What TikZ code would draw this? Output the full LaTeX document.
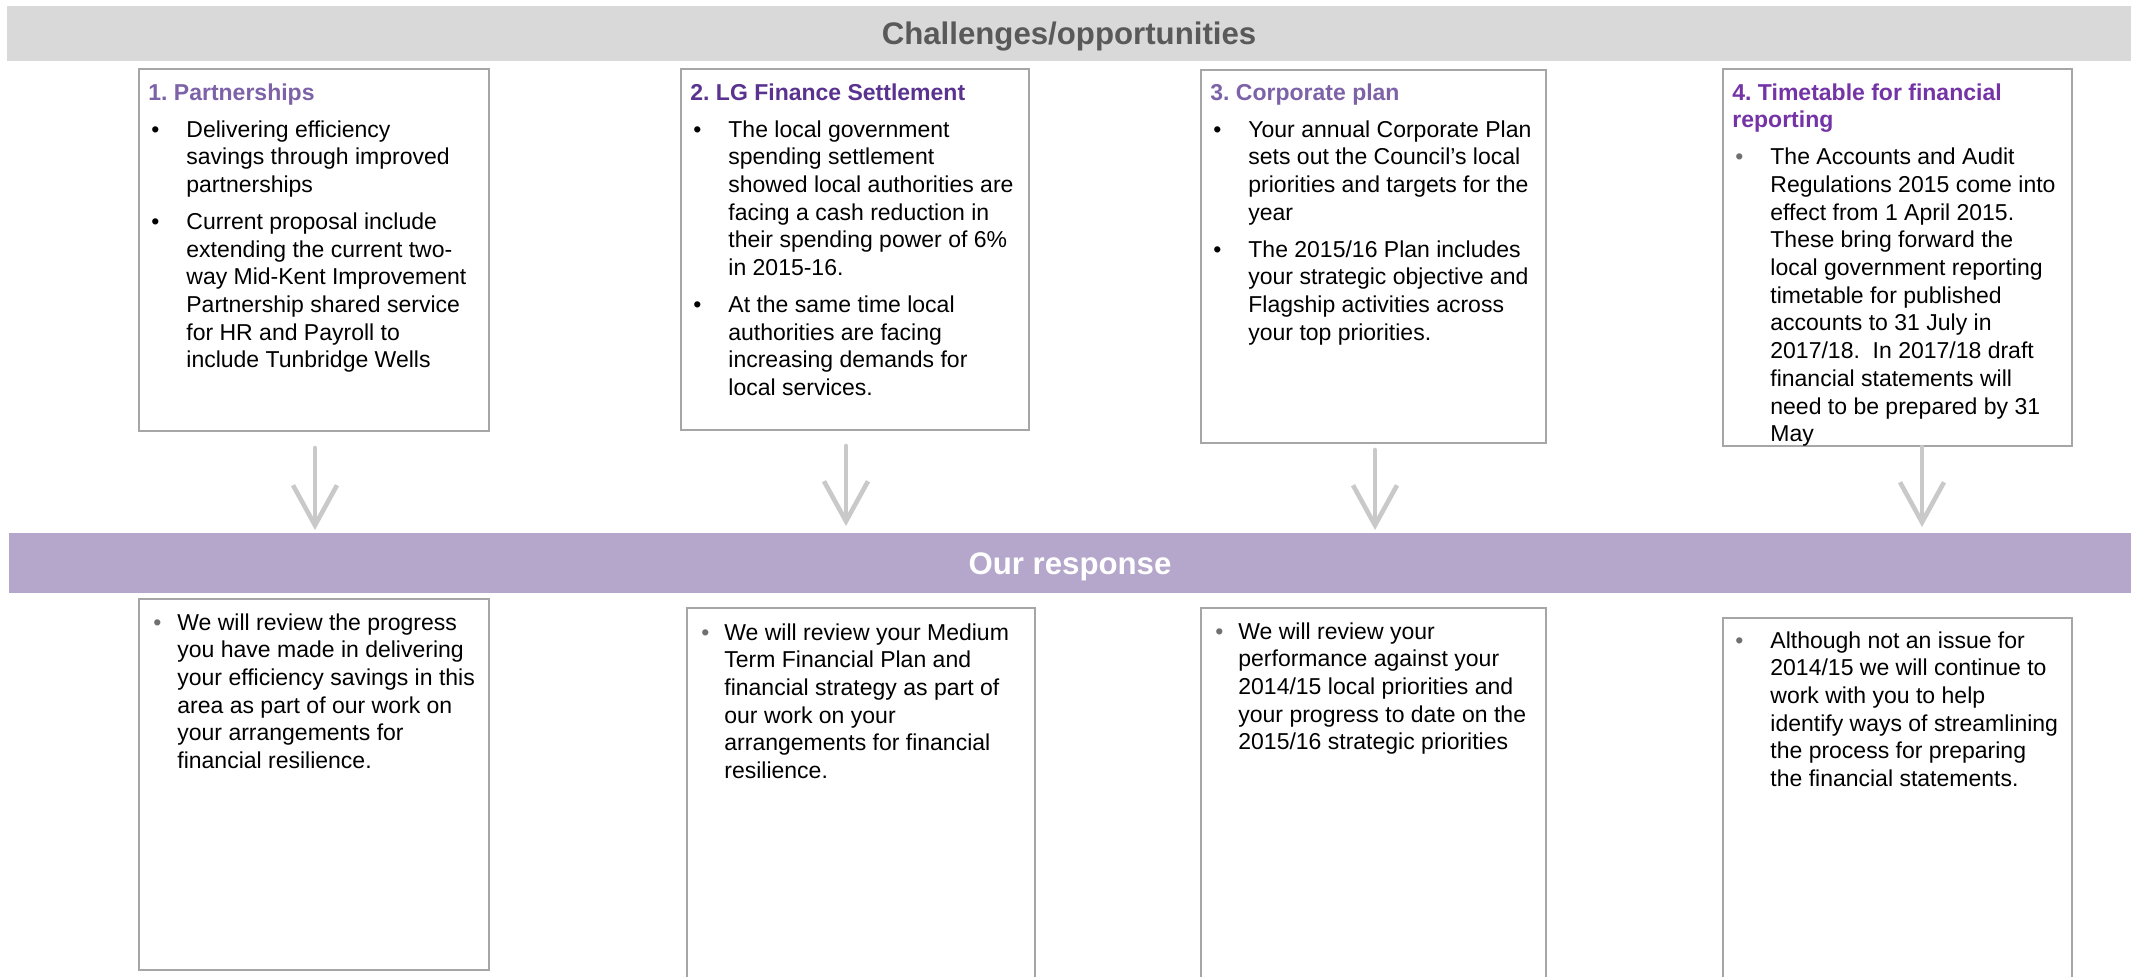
\documentclass[tikz,border=0pt]{standalone}
\usepackage{fontspec}
\setmainfont{Liberation Sans}
\usetikzlibrary{arrows.meta,calc}
\frenchspacing

\definecolor{bargray}{HTML}{D9D9D9}
\definecolor{barpurple}{HTML}{B4A7CB}
\definecolor{headgray}{HTML}{595959}
\definecolor{boxgray}{HTML}{A6A6A6}
\definecolor{arrowgray}{HTML}{C9C9C9}
\definecolor{dotgray}{HTML}{707070}
\definecolor{titleA}{HTML}{7D62A8}
\definecolor{titleB}{HTML}{5A3290}
\definecolor{titleD}{HTML}{7434A6}

\newcommand{\ctitle}[2]{\noindent{\bfseries\color{#1}#2}\setlength{\parskip}{4.65pt}}
\newcommand{\citem}[1][black]{\par\hangindent=19pt\hangafter=1\noindent\makebox[19pt][l]{\hspace{1.5pt}\textcolor{#1}{\textbullet}}}
\newcommand{\ritem}[1][11.5pt]{\hangindent=#1\hangafter=1\noindent\makebox[#1][l]{\textcolor{dotgray}{\textbullet}}}

\begin{document}
\begin{tikzpicture}[x=0.5pt,y=-0.5pt,
  bar/.style={inner sep=0pt,outer sep=0pt,font=\fontsize{15.6pt}{18pt}\selectfont\bfseries,text height=11.2pt,text depth=0pt},
  infobox/.style 2 args={draw=boxgray,line width=1pt,fill=white,anchor=north west,inner sep=0pt,outer sep=0pt,minimum width=#1,minimum height=#2},
  boxtext/.style={anchor=base west,inner sep=0pt,font=\fontsize{11.5pt}{13.85pt}\selectfont},
  flowarrow/.style={draw=arrowgray,line width=2.3pt,line cap=round,-{Straight Barb[length=20pt,width=22pt]}}]

\useasboundingbox (0,0) rectangle (2141,976);
\clip (0,0) rectangle (2141,976);

\node[bar,fill=bargray,text=headgray,minimum width=1062pt,minimum height=27.5pt] (chal) at (1069,33.5) {Challenges/opportunities};
\node[bar,fill=barpurple,text=white,minimum width=1061pt,minimum height=30pt] (resp) at (1070,563) {Our response};

\node[infobox={175pt}{181pt}] (c1) at (139,69) {};
\node[infobox={174pt}{180.5pt}] (c2) at (681,69) {};
\node[infobox={172.5pt}{186.5pt}] (c3) at (1201,70) {};
\node[infobox={174.5pt}{188.5pt}] (c4) at (1723,69) {};

\node[infobox={175pt}{185.5pt}] (r1) at (139,599) {};
\node[infobox={174pt}{190pt}] (r2) at (687,608) {};
\node[infobox={172.5pt}{190pt}] (r3) at (1201,608) {};
\node[infobox={174.5pt}{185pt}] (r4) at (1723,618) {};

\node[boxtext] (c1t) at ($(c1.north west)+(9,31)$) {\parbox[t]{170pt}{\ctitle{titleA}{1. Partnerships}
\citem Delivering efficiency\\savings through improved\\partnerships
\citem Current proposal include\\extending the current two-\\way Mid-Kent Improvement\\Partnership shared service\\for HR and Payroll to\\include Tunbridge Wells}};

\node[boxtext] (c2t) at ($(c2.north west)+(9,31)$) {\parbox[t]{170pt}{\ctitle{titleB}{2. LG Finance Settlement}
\citem The local government\\spending settlement\\showed local authorities are\\facing a cash reduction in\\their spending power of 6\%\\in 2015-16.
\citem At the same time local\\authorities are facing\\increasing demands for\\local services.}};

\node[boxtext] (c3t) at ($(c3.north west)+(9,30)$) {\parbox[t]{170pt}{\ctitle{titleA}{3. Corporate plan}
\citem Your annual Corporate Plan\\sets out the Council's local\\priorities and targets for the\\year
\citem The 2015/16 Plan includes\\your strategic objective and\\Flagship activities across\\your top priorities.}};

\node[boxtext] (c4t) at ($(c4.north west)+(9,31)$) {\parbox[t]{170pt}{\ctitle{titleD}{4. Timetable for financial\\reporting}
\citem[dotgray]The Accounts and Audit\\Regulations 2015 come into\\effect from 1 April 2015.\\These bring forward the\\local government reporting\\timetable for published\\accounts to 31 July in\\2017/18.~ In 2017/18 draft\\financial statements will\\need to be prepared by 31\\May}};

\node[boxtext] (r1t) at ($(r1.north west)+(14,31)$) {\parbox[t]{170pt}{\ritem[12pt]We will review the progress\\you have made in delivering\\your efficiency savings in this\\area as part of our work on\\your arrangements for\\financial resilience.}};

\node[boxtext] (r2t) at ($(r2.north west)+(14,32)$) {\parbox[t]{170pt}{\ritem We will review your Medium\\Term Financial Plan and\\financial strategy as part of\\our work on your\\arrangements for financial\\resilience.}};

\node[boxtext] (r3t) at ($(r3.north west)+(14,31)$) {\parbox[t]{170pt}{\ritem We will review your\\performance against your\\2014/15 local priorities and\\your progress to date on the\\2015/16 strategic priorities}};

\node[boxtext] (r4t) at ($(r4.north west)+(12,30)$) {\parbox[t]{170pt}{\ritem[17.5pt]Although not an issue for\\2014/15 we will continue to\\work with you to help\\identify ways of streamlining\\the process for preparing\\the financial statements.}};

\foreach \b/\dx/\dt/\db in {c1/1/17/3, c2/-9/16/7, c3/1.5/7/3, c4/24.5/1/6}
  \draw[flowarrow] ($(\b.south)+(\dx,\dt)$) -- ($(\b.south |- resp.north)+(\dx,-\db)$);

\end{tikzpicture}
\end{document}
